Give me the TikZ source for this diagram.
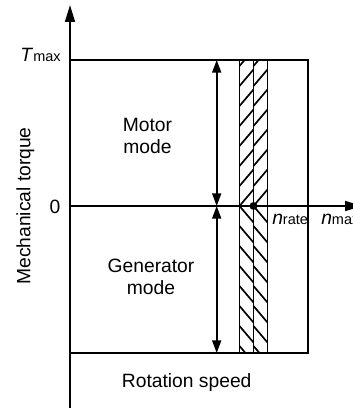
\documentclass[tikz,border=0pt]{standalone}
\usepackage{fontspec}
\setmainfont{Liberation Sans}
\usetikzlibrary{arrows.meta}
\newcommand{\subtxt}[1]{{\fontsize{10.3}{12}\selectfont #1}}

\begin{document}
\begin{tikzpicture}[
  x=0.025cm, y=-0.025cm,
  font=\fontsize{13.7}{15.6}\selectfont,
  axis/.style={line width=1.3pt, -{Triangle[length=12pt, width=7pt]}},
  frame/.style={line width=1.2pt},
  hatch/.style={line width=1.2pt},
  span/.style={line width=1.2pt, {Triangle[length=9pt, width=6.4pt]}-{Triangle[length=9pt, width=6.4pt]}},
  lbl/.style={inner sep=0pt, align=center},
]
\clip (0,0) rectangle (353,408);

% Coordinates
\coordinate (ybot) at (70,410);
\coordinate (ytop) at (70,5);
\coordinate (zero) at (70,206);
\coordinate (xend) at (362,206);
\coordinate (tl) at (70,60);
\coordinate (tr) at (308,60);
\coordinate (br) at (308,353);
\coordinate (bl) at (70,353);
\coordinate (ut) at (216.7,60);
\coordinate (um) at (216.7,206);
\coordinate (ub) at (216.7,353);

% Operating region
\draw[frame] (tl) -- (tr) -- (br) -- (bl);

% Hatched band
\begin{scope}
  \clip (239.5,60) rectangle (267.5,353);
  \foreach \x in {239.5,253.5} {
    \foreach \k in {0,...,7} {
      \draw[hatch] (\x,206-20*\k) -- ++(14,-16.5);
      \draw[hatch] (\x,206+20*\k) -- ++(14,16.5);
    }
  }
\end{scope}
\foreach \x [count=\i] in {239.5,253.5,267.5} {
  \coordinate (s\i t) at (\x,60);
  \coordinate (s\i b) at (\x,353);
  \draw[frame] (s\i t) -- (s\i b);
}

% Axes
\draw[axis] (ybot) -- (ytop);
\draw[axis] (zero) -- (xend);

% Mode arrows
\draw[span] (ut) -- (um);
\draw[span] (um) -- (ub);

% Rated point
\node[circle, fill, inner sep=0pt, minimum size=5.6pt] (dot) at (253.5,206) {};

% Labels
\node[lbl, anchor=base east] (tmax) at (61,61) {\textit{T}\subtxt{max}};
\node[lbl, anchor=base east] (zlbl) at (60.5,213) {0};
\node[lbl, anchor=base west] (nrate) at (272,224) {\textit{n}\subtxt{rate}};
\node[lbl, anchor=base west] (nmax) at (321,224) {\textit{n}\subtxt{max}};
\node[lbl] (motor) at (147.5,135.6) {Motor\\mode};
\node[lbl] (gen) at (151,277) {Generator\\mode};
\node[lbl, rotate=90] (ylbl) at (25.5,206) {Mechanical torque};
\node[lbl, anchor=base] (xlbl) at (186.7,387) {Rotation speed};

\end{tikzpicture}
\end{document}
